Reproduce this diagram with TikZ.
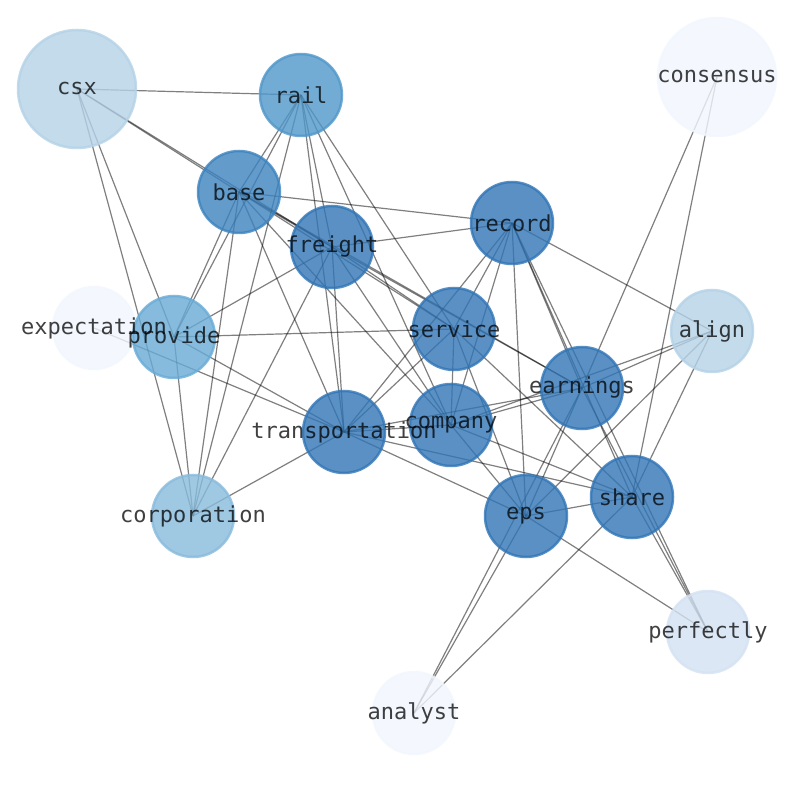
\documentclass[tikz,border=0pt]{standalone}
\usepackage{fontspec}
\newfontfamily\monof{DejaVu Sans Mono}
\definecolor{cdark}{HTML}{3175B6}
\definecolor{crail}{HTML}{4F97CA}
\definecolor{cbase}{HTML}{3C83BF}
\definecolor{cprov}{HTML}{68ABD6}
\definecolor{ccorp}{HTML}{88BBDC}
\definecolor{clight}{HTML}{B4D2E7}
\definecolor{cperf}{HTML}{D4E2F3}
\definecolor{cpale}{HTML}{F2F7FE}
\pgfdeclarelayer{bg}
\pgfsetlayers{bg,main}
\begin{document}
\begin{tikzpicture}[x=1pt,y=1pt,
  nd/.style={circle, minimum size=82pt, inner sep=0pt, line width=2.5pt, draw=#1, fill=#1, opacity=0.8},
  bignd/.style={nd=#1, minimum size=118pt},
  lbl/.style={font=\monof\fontsize{22}{26}\selectfont, text=black, text opacity=0.75, inner sep=0pt},
  edgeln/.style={draw=black, draw opacity=0.5, line width=1.2pt}]
\useasboundingbox (0,0) rectangle (794,790);
% nodes
\node[bignd=clight] (csx) at (77,701) {};
\node[nd=crail] (rail) at (301,695) {};
\node[bignd=cpale] (consensus) at (717,713) {};
\node[nd=cbase] (base) at (239,598) {};
\node[nd=cdark] (record) at (512,567) {};
\node[nd=cdark] (freight) at (332,543) {};
\node[nd=cpale] (expectation) at (94,462) {};
\node[nd=cprov] (provide) at (174,453) {};
\node[nd=cdark] (service) at (454,461) {};
\node[nd=clight] (align) at (712,459) {};
\node[nd=cdark] (earnings) at (582,402) {};
\node[nd=cdark] (transportation) at (344,358) {};
\node[nd=cdark] (company) at (451,365) {};
\node[nd=cdark] (share) at (632,293) {};
\node[nd=cdark] (eps) at (526,274) {};
\node[nd=ccorp] (corporation) at (193,274) {};
\node[nd=cperf] (perfectly) at (708,158) {};
\node[nd=cpale] (analyst) at (414,77) {};
% labels
\foreach \n in {csx,rail,consensus,base,record,freight,expectation,provide,service,align,earnings,transportation,company,share,eps,corporation,perfectly,analyst}
  \node[lbl] (\n-t) at (\n.center) {\n};
% edges
\begin{pgfonlayer}{bg}
\fill[white] (0,0) rectangle (794,790);
\foreach \a/\b in {csx/rail, csx/base, csx/freight, csx/provide, csx/corporation,
  rail/base, rail/freight, rail/provide, rail/corporation, rail/transportation, rail/company, rail/service,
  base/freight, base/provide, base/corporation, base/transportation, base/record, base/service, base/company, base/earnings,
  freight/record, freight/provide, freight/corporation, freight/transportation, freight/service, freight/earnings, freight/company,
  record/service, record/company, record/transportation, record/eps, record/earnings, record/share, record/perfectly, record/align,
  provide/service, provide/transportation, provide/corporation,
  expectation/transportation,
  service/company, service/transportation, service/eps, service/share,
  company/earnings, company/eps, company/share, company/transportation, company/align,
  transportation/earnings, transportation/share, transportation/eps, transportation/corporation,
  earnings/eps, earnings/align, earnings/consensus, earnings/analyst, earnings/perfectly,
  share/eps, share/align, share/consensus, share/analyst, share/perfectly,
  eps/align, eps/analyst, eps/perfectly}
  \draw[edgeln] (\a.center) -- (\b.center);
\end{pgfonlayer}
\end{tikzpicture}
\end{document}
